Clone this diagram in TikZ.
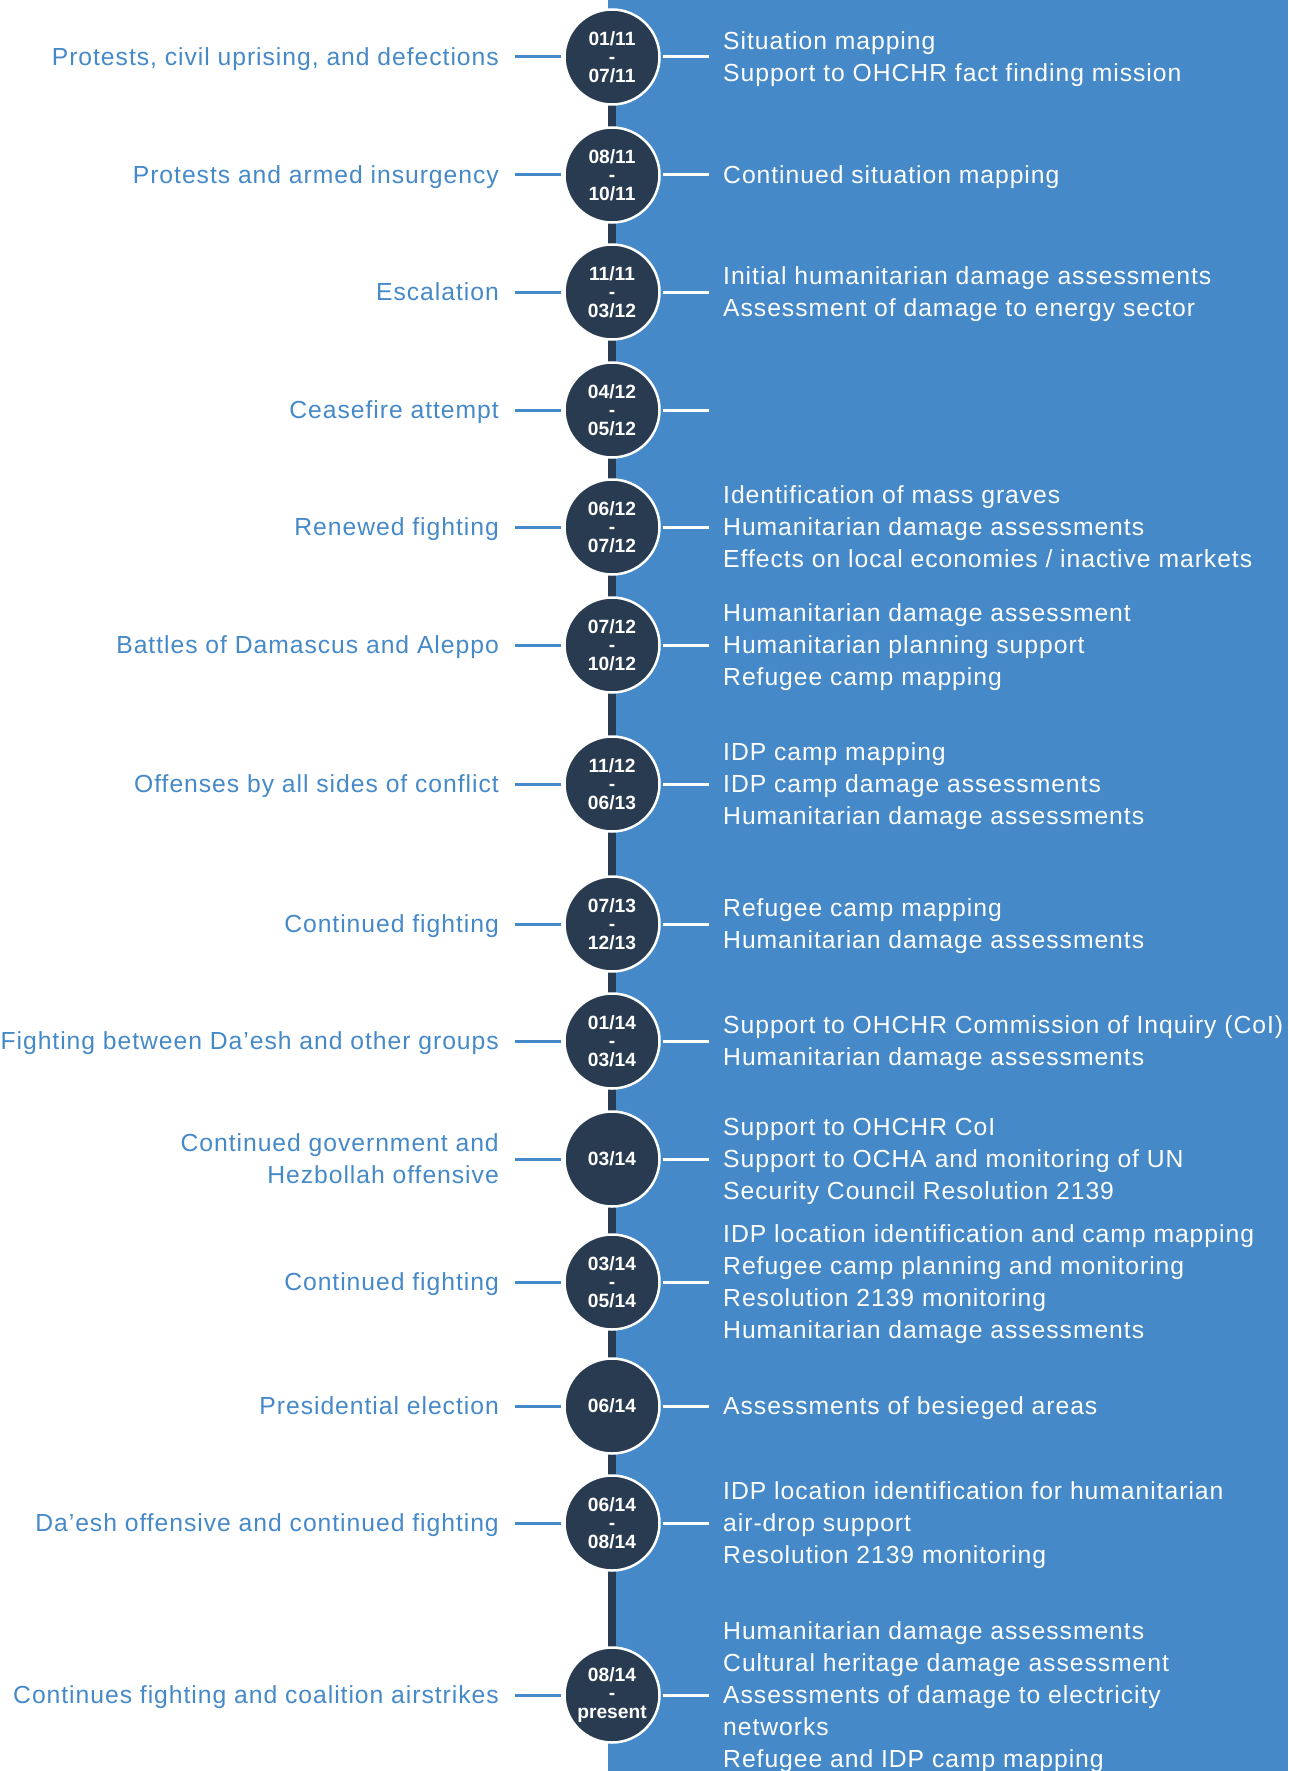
\documentclass[tikz,border=0pt]{standalone}
\usepackage{fontspec}
\setmainfont{Liberation Sans}
\newfontfamily\trackfont[LetterSpace=3.9]{Liberation Sans}
\usetikzlibrary{calc}
\definecolor{sky}{RGB}{69,137,200}
\definecolor{navy}{RGB}{41,59,80}

\begin{document}
\begin{tikzpicture}[
	x=1pt, y=-1pt,
  date/.style = {circle,draw=white,line width=2.5pt,fill=navy,text=white,minimum size=95pt,inner sep=0pt,align=center,font=\fontsize{19.2}{18.3}\selectfont\bfseries},
  event/.style = {anchor=base east,inner sep=0pt,align=right,text=sky,font=\trackfont\fontsize{24.7}{32}\selectfont},
  task/.style = {anchor=base west,inner sep=0pt,align=left,text=white,font=\trackfont\fontsize{24.7}{32}\selectfont},
  tick/.style = {line width=3pt,shorten <=2pt}
  ]
	\useasboundingbox (0,0) rectangle (1288,1771);
	\fill[sky] (608,0) rectangle (1288,1771);

	\coordinate (@1) at (612,57);
	\coordinate (@2) at (612,175);
	\coordinate (@3) at (612,292);
	\coordinate (@4) at (612,410);
	\coordinate (@5) at (612,527);
	\coordinate (@6) at (612,645);
	\coordinate (@7) at (612,784);
	\coordinate (@8) at (612,924);
	\coordinate (@9) at (612,1041);
	\coordinate (@10) at (612,1159);
	\coordinate (@11) at (612,1282);
	\coordinate (@12) at (612,1406);
	\coordinate (@13) at (612,1523);
	\coordinate (@14) at (612,1695);

	\draw[navy,line width=8pt] (@1) -- (@14);

	\node[date] (c1) at (@1) {01/11\\-\\07/11};
	\node[date] (c2) at (@2) {08/11\\-\\10/11};
	\node[date] (c3) at (@3) {11/11\\-\\03/12};
	\node[date] (c4) at (@4) {04/12\\-\\05/12};
	\node[date] (c5) at (@5) {06/12\\-\\07/12};
	\node[date] (c6) at (@6) {07/12\\-\\10/12};
	\node[date] (c7) at (@7) {11/12\\-\\06/13};
	\node[date] (c8) at (@8) {07/13\\-\\12/13};
	\node[date] (c9) at (@9) {01/14\\-\\03/14};
	\node[date] (c10) at (@10) {03/14};
	\node[date] (c11) at (@11) {03/14\\-\\05/14};
	\node[date] (c12) at (@12) {06/14};
	\node[date] (c13) at (@13) {06/14\\-\\08/14};
	\node[date] (c14) at (@14) {08/14\\-\\present};

	% base anchor = baseline of the last line
	\node[event] (l1) at (499,65.8) {Protests, civil uprising, and defections};
	\node[event] (l2) at (499,183.8) {Protests and armed insurgency};
	\node[event] (l3) at (499,300.8) {Escalation};
	\node[event] (l4) at (499,418.8) {Ceasefire attempt};
	\node[event] (l5) at (499,535.8) {Renewed fighting};
	\node[event] (l6) at (499,653.8) {Battles of Damascus and Aleppo};
	\node[event] (l7) at (499,792.8) {Offenses by all sides of conflict};
	\node[event] (l8) at (499,932.8) {Continued fighting};
	\node[event] (l9) at (499,1049.8) {Fighting between Da’esh and other groups};
	\node[event] (l10) at (499,1183.8) {Continued government and\\Hezbollah offensive};
	\node[event] (l11) at (499,1290.8) {Continued fighting};
	\node[event] (l12) at (499,1414.8) {Presidential election};
	\node[event] (l13) at (499,1531.8) {Da’esh offensive and continued fighting};
	\node[event] (l14) at (499,1703.8) {Continues fighting and coalition airstrikes};

	\node[task] (r1) at (723,81.8) {Situation mapping\\Support to OHCHR fact finding mission};
	\node[task] (r2) at (723,183.8) {Continued situation mapping};
	\node[task] (r3) at (723,316.8) {Initial humanitarian damage assessments\\Assessment of damage to energy sector};
	\coordinate (r4) at (723,410);
	\node[task] (r5) at (723,567.8) {Identification of mass graves\\Humanitarian damage assessments\\Effects on local economies / inactive markets};
	\node[task] (r6) at (723,685.8) {Humanitarian damage assessment\\Humanitarian planning support\\Refugee camp mapping};
	\node[task] (r7) at (723,824.8) {IDP camp mapping\\IDP camp damage assessments\\Humanitarian damage assessments};
	\node[task] (r8) at (723,948.8) {Refugee camp mapping\\Humanitarian damage assessments};
	\node[task] (r9) at (723,1065.8) {Support to OHCHR Commission of Inquiry (CoI)\\Humanitarian damage assessments};
	\node[task] (r10) at (723,1199.8) {Support to OHCHR CoI\\Support to OCHA and monitoring of UN\\Security Council Resolution 2139};
	\node[task] (r11) at (723,1338.8) {IDP location identification and camp mapping\\Refugee camp planning and monitoring\\Resolution 2139 monitoring\\Humanitarian damage assessments};
	\node[task] (r12) at (723,1414.8) {Assessments of besieged areas};
	\node[task] (r13) at (723,1563.8) {IDP location identification for humanitarian\\air-drop support\\Resolution 2139 monitoring};
	\node[task] (r14) at (723,1767.8) {Humanitarian damage assessments\\Cultural heritage damage assessment\\Assessments of damage to electricity\\networks\\Refugee and IDP camp mapping};

	\foreach \i in {1,...,14} {
		\draw[tick,sky,shorten >=16pt] (c\i.west) -- (c\i.west -| l\i.east);
	}
	\foreach \i in {1,2,3,5,6,7,8,9,10,11,12,13,14} {
		\draw[tick,white,shorten >=14pt] (c\i.east) -- (c\i.east -| r\i.west);
	}
	\draw[tick,white,shorten >=14pt] (c4.east) -- (c4.east -| r4);

\end{tikzpicture}
\end{document}
